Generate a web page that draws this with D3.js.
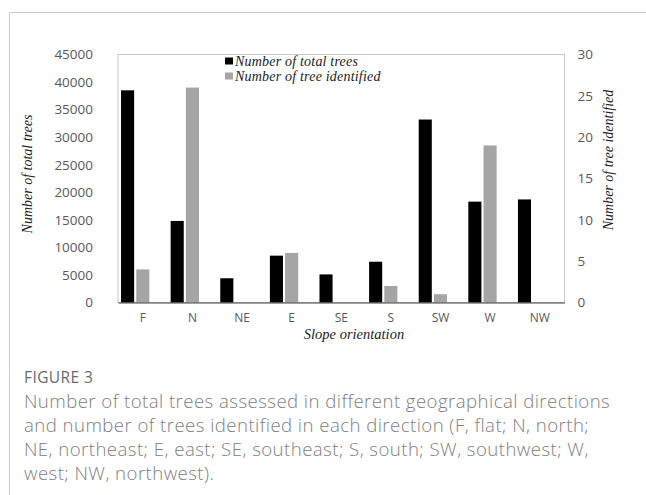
<!DOCTYPE html>
<html>
<head>
<meta charset="utf-8">
<script src="https://cdn.jsdelivr.net/npm/d3@7"></script>
<style>
  html, body { margin: 0; padding: 0; background: #fff; }
  svg { display: block; }
</style>
</head>
<body>
<svg id="chart" width="646" height="495"></svg>
<script>
const categories = ["F", "N", "NE", "E", "SE", "S", "SW", "W", "NW"];
const totalTrees = [38500, 14800, 4400, 8500, 5100, 7400, 33200, 18300, 18700];
const treesIdentified = [4, 26, 0, 6, 0, 2, 1, 19, 0];
const leftTicks = [0, 5000, 10000, 15000, 20000, 25000, 30000, 35000, 40000, 45000];
const rightTicks = [0, 5, 10, 15, 20, 25, 30];
const seriesNames = ["Number of total trees", "Number of tree identified"];
const seriesColors = ["#000000", "#a5a5a5"];
const captionLabel = "FIGURE 3";
const captionLines = [
  "Number of total trees assessed in different geographical directions",
  "and number of trees identified in each direction (F, flat; N, north;",
  "NE, northeast; E, east; SE, southeast; S, south; SW, southwest; W,",
  "west; NW, northwest)."
];

const svg = d3.select("#chart");

// card border (left + top)
svg.append("path")
  .attr("d", "M9.5,495 V12.5 H646")
  .attr("fill", "none")
  .attr("stroke", "#cccccc")
  .attr("stroke-width", 1);

const plot = { left: 118, right: 564.5, top: 54.5, bottom: 302.5 };

const x = d3.scaleBand().domain(categories).range([plot.left, plot.right]);
const xSub = d3.scaleBand().domain(["total", "identified", "_"])
  .range([0, x.bandwidth()]).paddingInner(0.14).paddingOuter(0.2);
const yL = d3.scaleLinear().domain([0, 45000]).range([plot.bottom, plot.top]);
const yR = d3.scaleLinear().domain([0, 30]).range([plot.bottom, plot.top]);

// plot area frame
svg.append("rect")
  .attr("x", plot.left).attr("y", plot.top)
  .attr("width", plot.right - plot.left).attr("height", plot.bottom - plot.top)
  .attr("fill", "none").attr("stroke", "#c8c8c8").attr("stroke-width", 1);

// bars
svg.append("g").selectAll("rect")
  .data(categories.map((c, i) => ({ c, v: totalTrees[i] })))
  .join("rect")
  .attr("x", d => x(d.c) + xSub("total"))
  .attr("width", xSub.bandwidth())
  .attr("y", d => yL(d.v))
  .attr("height", d => yL(0) - yL(d.v))
  .attr("fill", seriesColors[0]);

svg.append("g").selectAll("rect")
  .data(categories.map((c, i) => ({ c, v: treesIdentified[i] })).filter(d => d.v > 0))
  .join("rect")
  .attr("x", d => x(d.c) + xSub("identified"))
  .attr("width", xSub.bandwidth())
  .attr("y", d => yR(d.v))
  .attr("height", d => yR(0) - yR(d.v))
  .attr("fill", seriesColors[1]);

// axes
const tickFont = "'Open Sans', sans-serif";
const tickColor = "#595959";

const gL = svg.append("g")
  .attr("transform", `translate(${plot.left},0)`)
  .call(d3.axisLeft(yL).tickValues(leftTicks).tickSize(0).tickPadding(25).tickFormat(d3.format("d")));
gL.select(".domain").remove();
gL.selectAll("text").attr("font-family", tickFont).attr("font-size", 13.5).attr("fill", tickColor);

const gR = svg.append("g")
  .attr("transform", `translate(${plot.right},0)`)
  .call(d3.axisRight(yR).tickValues(rightTicks).tickSize(0).tickPadding(13).tickFormat(d3.format("d")));
gR.select(".domain").remove();
gR.selectAll("text").attr("font-family", tickFont).attr("font-size", 13.5).attr("fill", tickColor);

const gX = svg.append("g")
  .attr("transform", `translate(0,${plot.bottom})`)
  .call(d3.axisBottom(x).tickSize(0).tickPadding(11));
gX.select(".domain").attr("stroke", "#404040").attr("stroke-width", 1.2);
gX.selectAll("text").attr("font-family", tickFont).attr("font-size", 12).attr("fill", tickColor);

// axis titles
const serif = "'Liberation Serif', 'Times New Roman', serif";
svg.append("text")
  .attr("transform", "translate(32,174) rotate(-90)")
  .attr("text-anchor", "middle")
  .attr("font-family", serif).attr("font-style", "italic").attr("font-size", 14)
  .attr("fill", "#222").text("Number of total trees");

svg.append("text")
  .attr("transform", "translate(613,160) rotate(-90)")
  .attr("text-anchor", "middle")
  .attr("font-family", serif).attr("font-style", "italic").attr("font-size", 14)
  .attr("fill", "#222").text("Number of tree identified");

svg.append("text")
  .attr("x", 354).attr("y", 339)
  .attr("text-anchor", "middle")
  .attr("font-family", serif).attr("font-style", "italic").attr("font-size", 14.5)
  .attr("fill", "#222").text("Slope orientation");

// legend
const legend = svg.append("g").attr("transform", "translate(225,56)");
seriesNames.forEach((name, i) => {
  const g = legend.append("g").attr("transform", `translate(0,${i * 15})`);
  g.append("rect").attr("x", 0).attr("y", 1.5).attr("width", 8).attr("height", 7).attr("fill", seriesColors[i]);
  g.append("text").attr("x", 10).attr("y", 10)
    .attr("font-family", serif).attr("font-style", "italic").attr("font-size", 14)
    .attr("letter-spacing", 0.2)
    .attr("fill", "#222").text(name);
});

// caption
svg.append("text")
  .attr("x", 24).attr("y", 383)
  .attr("font-family", "'Open Sans', sans-serif").attr("font-size", 15.5)
  .attr("font-weight", 500).attr("letter-spacing", 0.4).attr("fill", "#6a6a6a")
  .text(captionLabel);

svg.append("g").selectAll("text")
  .data(captionLines)
  .join("text")
  .attr("x", 24)
  .attr("y", (d, i) => 408 + i * 24)
  .attr("font-family", "'Open Sans', sans-serif").attr("font-size", 18.6)
  .attr("font-weight", 300).attr("letter-spacing", 0.45).attr("fill", "#808080")
  .text(d => d);
</script>
</body>
</html>
